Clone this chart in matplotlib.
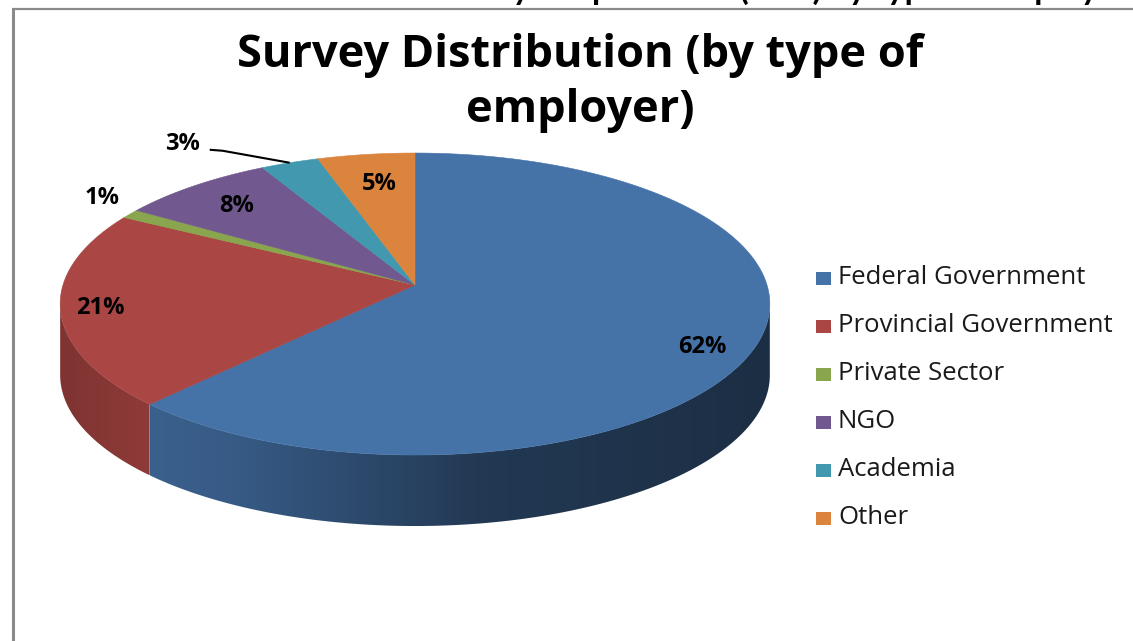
import numpy as np
import matplotlib
matplotlib.use("Agg")
import matplotlib.pyplot as plt
from matplotlib.patches import Polygon, Rectangle

# ---- data -------------------------------------------------------------
categories = ["Federal Government", "Provincial Government", "Private Sector",
              "NGO", "Academia", "Other"]
shares = [62, 21, 1, 8, 3, 5]
colors = ["#4572A7", "#AA4643", "#89A54E", "#71588F", "#4198AF", "#DB843D"]
title_lines = ["Survey Distribution (by type of", "employer)"]
caption = "Chart 1: Distribution of Survey Respondents (n=\u2026) by type of employer"

# ---- canvas (pixel coordinates, y downwards) -------------------------
W, H = 1133, 641
plt.rcParams["font.family"] = ["Open Sans", "DejaVu Sans"]
fig = plt.figure(figsize=(W / 100, H / 100), dpi=100)
ax = fig.add_axes([0, 0, 1, 1])
ax.set_xlim(0, W)
ax.set_ylim(H, 0)
ax.axis("off")

# perspective view of a tilted disk
CX, CY = 415, 285
A, B, K = 352, 148.6, 0.126
DEPTH = 71


def project(u, v):
    w = 1 + K * v
    return CX + A * u / w, CY - B * v / w


def arc(t0, t1, r=1.0, n=240):
    t = np.radians(np.linspace(t0, t1, n))
    return project(r * np.cos(t), r * np.sin(t))


def side_shade(x):
    # lighting across the front wall: bright front-left, dark on the right
    return np.interp(x, [60, 150, 230, 480, 780], [0.74, 0.84, 0.80, 0.50, 0.40])


total = float(sum(shares))
cum = np.concatenate([[0], np.cumsum(shares)]) / total
starts = 90 - 360 * cum[:-1]
ends = 90 - 360 * cum[1:]

# visible part of the rim wall (between the silhouette tangents)
tang = np.degrees(np.arcsin(K))
vis_lo, vis_hi = -180 + tang, -tang

# side walls
for a0, a1, col in zip(starts, ends, colors):
    for shift in (-360, 0, 360):
        lo = max(a1, vis_lo + shift)
        hi = min(a0, vis_hi + shift)
        if hi - lo <= 0:
            continue
        xs, ys = arc(hi, lo)
        px = np.concatenate([xs, xs[::-1]])
        py = np.concatenate([ys, ys[::-1] + DEPTH])
        poly = Polygon(np.column_stack([px, py]), closed=True,
                       facecolor="none", edgecolor="none")
        ax.add_patch(poly)
        gx = np.linspace(px.min(), px.max(), 300)
        base = np.array(matplotlib.colors.to_rgb(col))
        img = (side_shade(gx)[:, None] * base[None, :])[None, :, :]
        im = ax.imshow(np.clip(img, 0, 1), extent=(px.min(), px.max(),
                       py.max(), py.min()), aspect="auto", zorder=1,
                       interpolation="bilinear")
        im.set_clip_path(poly)
        ax.set_xlim(0, W)
        ax.set_ylim(H, 0)

# top faces
for a0, a1, col in zip(starts, ends, colors):
    xs, ys = arc(a0, a1)
    pts = np.column_stack([np.r_[CX, xs], np.r_[CY, ys]])
    ax.add_patch(Polygon(pts, closed=True, facecolor=col, edgecolor=col,
                         lw=0.4, zorder=2))

# data labels: (radial factor, dx, dy) in the disk / pixel frame
label_style = [(0.85, -2, 14), (0.90, 4, 2), (1.12, 4, -8),
               (0.78, -3, 0), None, (0.76, 2, 1)]
LABEL_KW = dict(fontsize=17, fontweight="bold", ha="center", va="center",
                color="black", zorder=4)
for i, (v, a0, a1) in enumerate(zip(shares, starts, ends)):
    mid = (a0 + a1) / 2
    text = f"{v}%"
    st = label_style[i]
    if st is None:
        # leader-line label
        rx, ry = project(np.cos(np.radians(mid)), np.sin(np.radians(mid)))
        ax.plot([rx, rx - 67, rx - 80], [ry, ry - 12, ry - 13],
                color="black", lw=1.5, zorder=4, solid_capstyle="butt")
        ax.text(rx - 107, ry - 19, text, **LABEL_KW)
        continue
    r, dx, dy = st
    lx, ly = project(r * np.cos(np.radians(mid)), r * np.sin(np.radians(mid)))
    ax.text(lx + dx, ly + dy, text, **LABEL_KW)

# legend
LEG_X, LEG_Y0, LEG_DY = 816, 278, 48
for i, (name, col) in enumerate(zip(categories, colors)):
    y = LEG_Y0 + i * LEG_DY
    ax.add_patch(Rectangle((LEG_X, y - 6.5), 15, 13, facecolor=col,
                           edgecolor="none", zorder=3))
    ax.text(LEG_X + 22, y, name, fontsize=18.5, ha="left", va="center",
            color="#1a1a1a", zorder=3)

# title, one text per line
for k, (line, base_y) in enumerate(zip(title_lines, [67, 122])):
    ax.text(580, base_y, line, fontsize=32.5, fontweight="bold", ha="center",
            va="baseline", color="black")

# caption of the page above the chart area (mostly cropped)
ax.text(75, -0.5, caption, fontsize=24, fontweight="bold", ha="left",
        va="baseline", color="black", family=["Lato", "DejaVu Sans"])

# chart frame
ax.plot([12, W], [9, 9], color="#8a8a8a", lw=1.6, solid_capstyle="butt", zorder=5)
ax.plot([12.5, 12.5], [9, H], color="#8a8a8a", lw=2.2, solid_capstyle="butt", zorder=5)

fig.savefig("out.png", dpi=100, facecolor="white")
